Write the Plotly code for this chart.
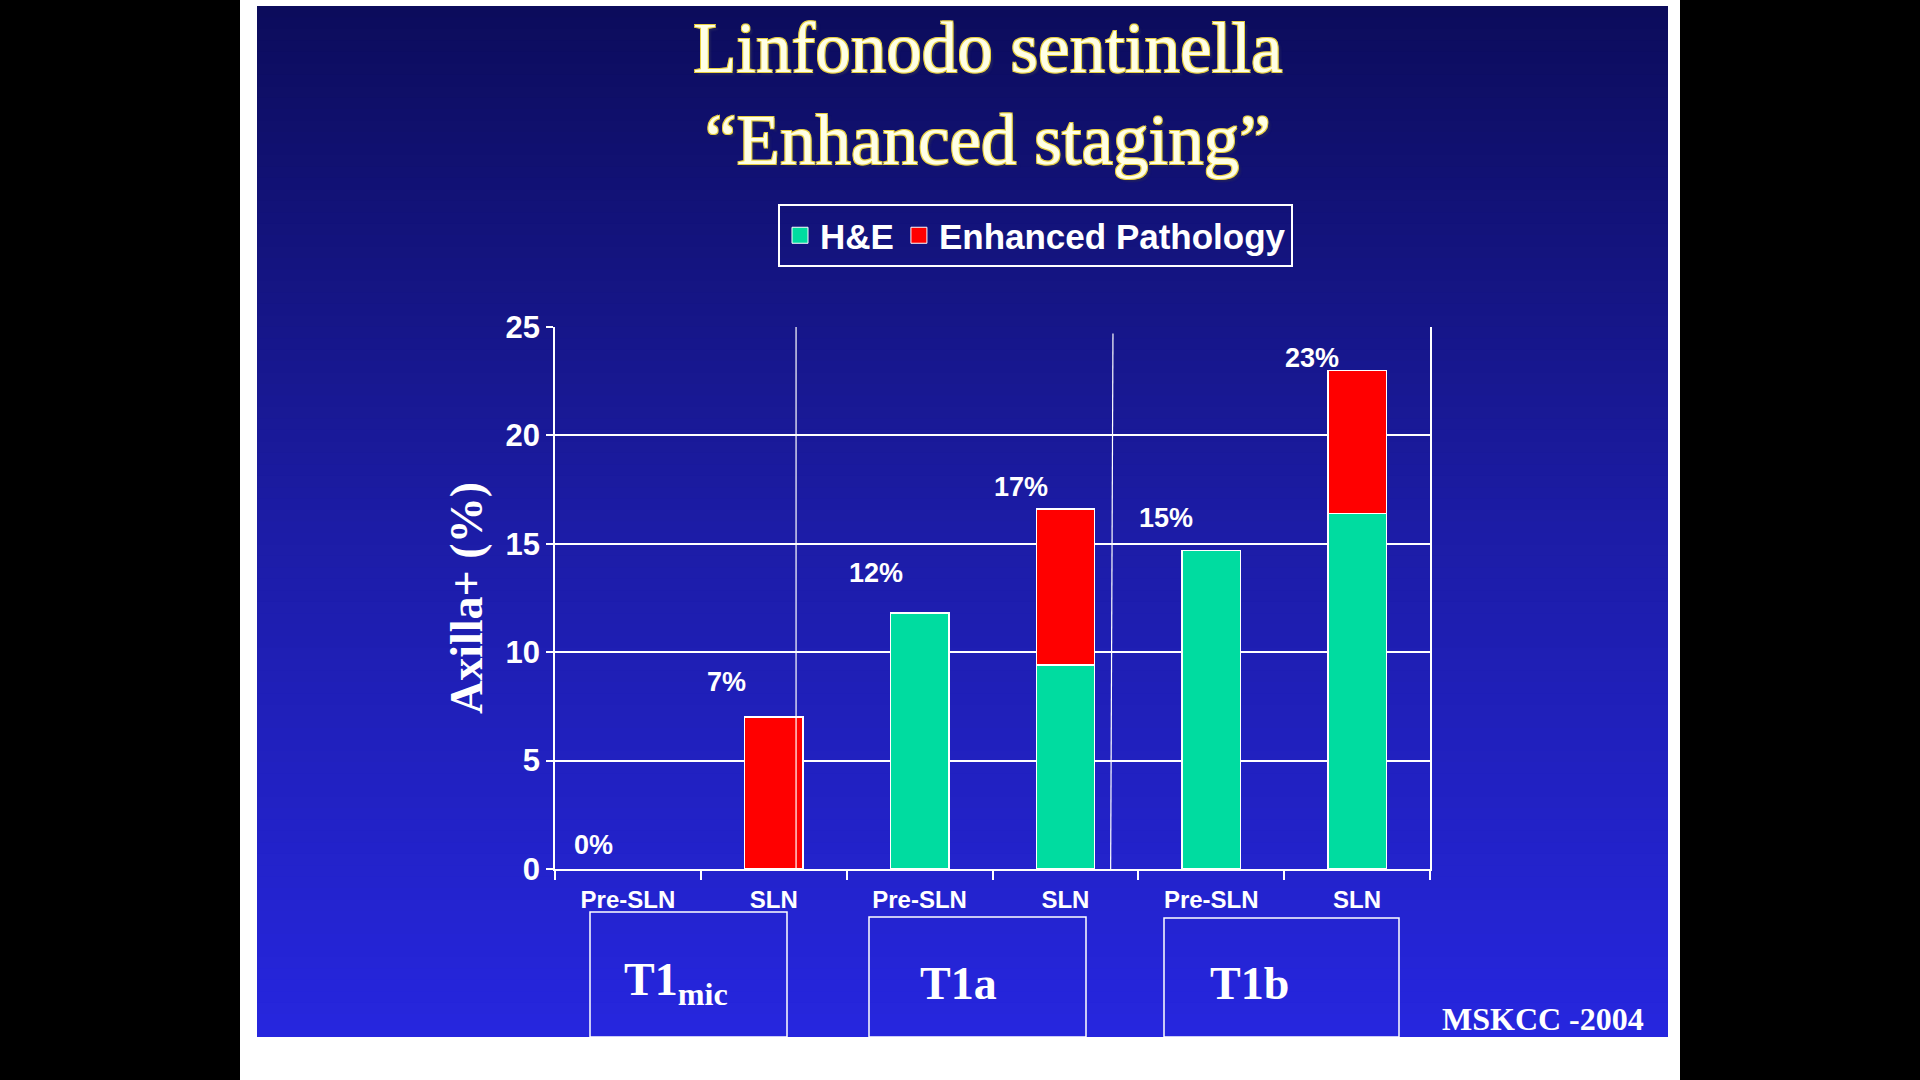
import plotly.graph_objects as go

# values (percent of positive axilla)
bar_labels = ['Pre-SLN', 'SLN', 'Pre-SLN', 'SLN', 'Pre-SLN', 'SLN']
he_values = [0, 0, 11.8, 9.4, 14.7, 16.4]
enhanced_values = [0, 7.0, 0, 7.2, 0, 6.6]
pct_labels = ['0%', '7%', '12%', '17%', '15%', '23%']
group_labels = ['T1<sub>mic</sub>', 'T1a', 'T1b']
y_ticks = [0, 5, 10, 15, 20, 25]

x_pos = list(range(len(bar_labels)))
totals = [a + b for a, b in zip(he_values, enhanced_values)]

# plot area in page pixels
L, R, T, B = 555, 1430, 327, 869
W, H = R - L, B - T


def fx(px):
    return (px - L) / W


def fy(py):
    return (B - py) / H


def outline(vals):
    # no outline on empty bars
    return [0 if v == 0 else 1.5 for v in vals]


series = [('H&E', he_values, '#00DCA0'), ('Enhanced Pathology', enhanced_values, '#FF0000')]

fig = go.Figure()
for name, vals, col in series:
    fig.add_trace(go.Bar(x=x_pos, y=vals, name=name, width=0.4, legendgroup=name,
                         showlegend=False,
                         marker=dict(color=col, line=dict(color='white', width=outline(vals)))))
# legend entries with bigger square swatches, like the slide
for name, vals, col in series:
    fig.add_trace(go.Scatter(x=[None], y=[None], mode='markers', name=name, legendgroup=name,
                             marker=dict(symbol='square', size=22, color=col,
                                         line=dict(color='white', width=1))))

shapes = []
# slide frame + blue gradient background
shapes.append(dict(type='rect', xref='paper', yref='paper', x0=fx(240), x1=fx(1680),
                   y0=fy(0), y1=fy(1080), fillcolor='white', line_width=0, layer='below'))
stops = [(12, 12, 92), (28, 28, 165), (38, 38, 222)]
n = 90
top, bot = 6, 1037
for i in range(n):
    t = i / (n - 1)
    if t < 0.5:
        a, b, u = stops[0], stops[1], t / 0.5
    else:
        a, b, u = stops[1], stops[2], (t - 0.5) / 0.5
    c = tuple(round(a[k] + (b[k] - a[k]) * u) for k in range(3))
    y0 = top + (bot - top) * i / n
    # each band runs to the bottom so no seams show between bands
    shapes.append(dict(type='rect', xref='paper', yref='paper', x0=fx(257), x1=fx(1668),
                       y0=fy(bot), y1=fy(y0), fillcolor='rgb(%d,%d,%d)' % c,
                       line_width=0, layer='below'))

# hand drawn separators
shapes.append(dict(type='line', xref='x', yref='y', x0=1.153, x1=1.153, y0=0, y1=25,
                   line=dict(color='white', width=1.2), layer='above'))
shapes.append(dict(type='line', xref='x', yref='y', x0=3.326, x1=3.31, y0=24.7, y1=-0.2,
                   line=dict(color='white', width=1.2), layer='above'))

# group boxes under the axis
boxes = [(590, 787, 912), (869, 1086, 917), (1164, 1399, 918)]
for x0, x1, y0 in boxes:
    shapes.append(dict(type='rect', xref='paper', yref='paper', x0=fx(x0), x1=fx(x1),
                       y0=fy(1037), y1=fy(y0), line=dict(color='white', width=1.5)))

annotations = []
label_dx = [-34, -47, -44, -44, -45, -45]
label_dy = [24, 35, 40, 22, 32, 12]
for i, txt in enumerate(pct_labels):
    annotations.append(dict(x=x_pos[i], y=totals[i], xref='x', yref='y', text=txt,
                            showarrow=False, xshift=label_dx[i], yshift=label_dy[i],
                            xanchor='center', yanchor='middle',
                            font=dict(family='Liberation Sans, Arial', size=27,
                                      color='white', weight='bold')))

group_x = [676, 958, 1249]
for gx, txt in zip(group_x, group_labels):
    annotations.append(dict(x=fx(gx), y=fy(983), xref='paper', yref='paper', text=txt,
                            showarrow=False, xanchor='center', yanchor='middle',
                            font=dict(family='Liberation Serif, Times New Roman', size=46,
                                      color='white', weight='bold')))

annotations.append(dict(x=fx(1543), y=fy(1019), xref='paper', yref='paper',
                        text='MSKCC -2004', showarrow=False, xanchor='center',
                        yanchor='middle',
                        font=dict(family='Liberation Serif, Times New Roman', size=32,
                                  color='white', weight='bold')))

title_font = dict(family='Liberation Serif, Times New Roman', size=71, color='#FFFFE6',
                  shadow='1px 1px 0 #E8D040, -1px -1px 0 #E8D040, 1px -1px 0 #E8D040, '
                         '-1px 1px 0 #E8D040, 3px 3px 2px #202060')
annotations.append(dict(x=fx(988), y=fy(48), xref='paper', yref='paper',
                        text='Linfonodo sentinella', showarrow=False, xanchor='center',
                        yanchor='middle', font=title_font))
annotations.append(dict(x=fx(988), y=fy(140), xref='paper', yref='paper',
                        text='\u201cEnhanced staging\u201d', showarrow=False,
                        xanchor='center', yanchor='middle', font=title_font))

fig.update_layout(
    width=1920, height=1080,
    margin=dict(l=L, r=1920 - R, t=T, b=1080 - B),
    paper_bgcolor='black', plot_bgcolor='rgba(0,0,0,0)',
    barmode='stack', bargap=0.6,
    shapes=shapes, annotations=annotations,
    showlegend=True,
    legend=dict(orientation='h', traceorder='normal', x=fx(778), y=fy(204),
                xanchor='left', yanchor='top',
                bgcolor='rgba(0,0,0,0)', bordercolor='white', borderwidth=2,
                font=dict(family='Liberation Sans, Arial', size=35, color='white',
                          weight='bold'),
                itemwidth=30),
)

fig.update_xaxes(range=[-0.5, 5.5], tickvals=x_pos, ticktext=bar_labels, ticks='',
                 showgrid=False, zeroline=False, showline=True, linecolor='white',
                 linewidth=1.5, ticklabelstandoff=8,
                 tickfont=dict(family='Liberation Sans Narrow, Arial Narrow, Liberation Sans',
                               size=24, color='white', weight='bold'),
                 minor=dict(tickmode='linear', tick0=-0.5, dtick=1, ticks='outside',
                            ticklen=9, tickcolor='white', tickwidth=1.5, showgrid=False))
fig.update_yaxes(range=[0, 25], tickvals=y_ticks, ticks='outside', ticklen=7,
                 tickcolor='white', tickwidth=1.5, showgrid=True, gridcolor='white',
                 gridwidth=1.5, zeroline=False, showline=True, linecolor='white',
                 linewidth=1.5, mirror=True,
                 tickfont=dict(family='Liberation Sans, Arial', size=31, color='white',
                               weight='bold'),
                 title=dict(text='Axilla+ (%)', standoff=8,
                            font=dict(family='Liberation Serif, Times New Roman', size=46,
                                      color='white', weight='bold')))

fig.write_html('out.html', config={'displayModeBar': False},
               post_script="document.body.style.margin='0';")
